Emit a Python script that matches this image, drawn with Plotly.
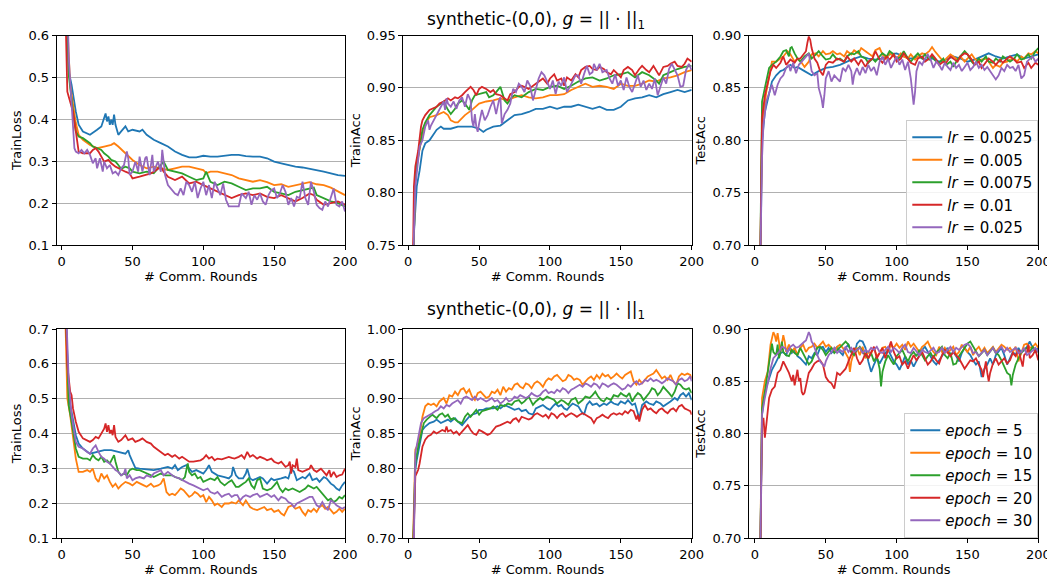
import plotly.graph_objects as go

colors = ["#1f77b4", "#ff7f0e", "#2ca02c", "#d62728", "#9467bd"]
lr_labels = ["0.0025", "0.005", "0.0075", "0.01", "0.025"]
epoch_labels = ["5", "10", "15", "20", "30"]
round_ticks = [0, 50, 100, 150, 200]
title_text = "synthetic-(0,0), <i>g</i> = || · ||<sub>1</sub>"

# ---------------- Top row: learning-rate sweep ----------------
# TrainLoss (round, value)
loss_lr_0025 = [(1,0.95),(3,0.70),(5,0.514),(7,0.482),(10,0.418),(12,0.387),(15,0.371),(20,0.363),(22,0.367),(25,0.375),(28,0.383),(30,0.403),(31,0.414),(32,0.395),(33,0.407),(34,0.387),(35,0.399),(36,0.387),(37,0.411),(38,0.387),(40,0.363),(42,0.371),(45,0.383),(47,0.371),(50,0.375),(55,0.371),(57,0.375),(60,0.363),(65,0.351),(70,0.343),(75,0.335),(80,0.323),(85,0.315),(90,0.309),(95,0.309),(100,0.313),(105,0.311),(110,0.311),(115,0.313),(120,0.315),(125,0.315),(130,0.312),(135,0.311),(140,0.311),(145,0.307),(150,0.299),(155,0.295),(160,0.291),(165,0.287),(170,0.285),(175,0.282),(180,0.279),(185,0.275),(190,0.271),(195,0.267),(200,0.265)]
loss_lr_005 = [(1,0.9),(3,0.7),(6,0.482),(8,0.434),(10,0.391),(12,0.363),(15,0.351),(20,0.339),(25,0.331),(30,0.335),(35,0.339),(37,0.343),(40,0.335),(45,0.319),(50,0.303),(55,0.291),(60,0.283),(65,0.287),(70,0.283),(75,0.279),(80,0.283),(85,0.287),(90,0.287),(95,0.283),(100,0.279),(102,0.271),(105,0.275),(110,0.275),(115,0.271),(120,0.267),(125,0.259),(130,0.255),(135,0.251),(140,0.255),(145,0.250),(150,0.243),(155,0.245),(160,0.239),(165,0.243),(170,0.247),(175,0.250),(180,0.245),(185,0.243),(190,0.237),(195,0.227),(200,0.219)]
loss_lr_0075 = [(1,0.9),(3,0.7),(5,0.506),(8,0.418),(10,0.371),(12,0.359),(15,0.355),(20,0.343),(22,0.335),(25,0.331),(28,0.327),(30,0.319),(33,0.311),(35,0.303),(38,0.299),(40,0.291),(42,0.282),(45,0.287),(48,0.283),(50,0.275),(55,0.271),(60,0.275),(65,0.271),(68,0.283),(70,0.291),(72,0.299),(75,0.279),(80,0.275),(85,0.271),(90,0.263),(95,0.255),(100,0.259),(102,0.275),(105,0.251),(110,0.243),(115,0.251),(120,0.247),(125,0.239),(130,0.231),(135,0.235),(140,0.235),(145,0.239),(150,0.227),(155,0.223),(160,0.219),(165,0.227),(170,0.231),(175,0.235),(178,0.237),(180,0.219),(185,0.212),(190,0.204),(195,0.200),(200,0.192)]
loss_lr_01 = [(1,0.9),(3,0.6),(4,0.466),(5,0.454),(8,0.418),(10,0.371),(12,0.323),(15,0.319),(20,0.319),(22,0.327),(24,0.331),(26,0.323),(28,0.311),(30,0.299),(33,0.303),(35,0.295),(38,0.287),(40,0.283),(45,0.275),(48,0.271),(50,0.259),(55,0.263),(60,0.267),(63,0.271),(65,0.275),(68,0.283),(70,0.287),(72,0.275),(75,0.263),(80,0.255),(85,0.263),(90,0.247),(95,0.251),(100,0.243),(105,0.235),(110,0.227),(115,0.219),(120,0.212),(125,0.219),(130,0.223),(135,0.219),(140,0.223),(145,0.215),(150,0.212),(155,0.219),(160,0.212),(165,0.204),(170,0.212),(175,0.223),(178,0.219),(180,0.208),(185,0.196),(190,0.200),(195,0.204),(200,0.196)]
loss_lr_025 = [(1,0.9),(4,0.7),(5,0.546),(7,0.426),(8,0.363),(9,0.331),(10,0.323),(12,0.319),(14,0.327),(16,0.319),(18,0.327),(20,0.315),(22,0.295),(24,0.307),(25,0.283),(27,0.307),(29,0.275),(30,0.299),(32,0.283),(34,0.291),(36,0.271),(38,0.275),(40,0.267),(42,0.283),(44,0.291),(46,0.323),(47,0.307),(48,0.267),(50,0.275),(52,0.299),(54,0.275),(55,0.311),(57,0.275),(59,0.307),(60,0.311),(62,0.267),(64,0.315),(65,0.275),(67,0.291),(68,0.299),(70,0.275),(71,0.327),(72,0.299),(73,0.267),(75,0.243),(77,0.235),(80,0.223),(82,0.219),(84,0.235),(86,0.219),(88,0.251),(90,0.243),(92,0.227),(94,0.251),(96,0.212),(98,0.235),(100,0.251),(102,0.219),(104,0.243),(106,0.212),(108,0.251),(110,0.235),(112,0.219),(114,0.247),(116,0.208),(118,0.192),(120,0.192),(125,0.192),(127,0.223),(130,0.212),(132,0.227),(134,0.196),(136,0.219),(138,0.208),(140,0.223),(142,0.204),(144,0.196),(146,0.219),(148,0.231),(150,0.235),(152,0.212),(154,0.223),(156,0.243),(158,0.227),(160,0.196),(162,0.212),(164,0.192),(166,0.215),(168,0.212),(170,0.251),(172,0.212),(174,0.196),(176,0.251),(178,0.227),(180,0.196),(182,0.188),(184,0.184),(186,0.204),(188,0.192),(190,0.212),(192,0.235),(194,0.196),(196,0.192),(198,0.204),(200,0.180)]

# TrainAcc
tracc_lr_0025 = [(1,0.5),(3,0.70),(4,0.761),(6,0.806),(8,0.821),(10,0.840),(12,0.847),(15,0.850),(20,0.860),(23,0.863),(25,0.861),(30,0.861),(35,0.863),(40,0.863),(45,0.863),(50,0.861),(53,0.858),(55,0.860),(60,0.863),(65,0.864),(70,0.869),(75,0.874),(80,0.875),(85,0.877),(90,0.880),(95,0.880),(100,0.882),(105,0.880),(110,0.882),(115,0.882),(120,0.884),(125,0.882),(130,0.880),(135,0.882),(140,0.879),(145,0.879),(150,0.882),(155,0.888),(160,0.890),(165,0.891),(170,0.893),(175,0.891),(180,0.894),(185,0.896),(190,0.898),(195,0.896),(200,0.898)]
tracc_lr_005 = [(1,0.5),(3,0.70),(5,0.815),(7,0.834),(10,0.856),(12,0.866),(15,0.872),(20,0.874),(25,0.877),(28,0.874),(30,0.869),(33,0.867),(35,0.867),(40,0.874),(45,0.879),(50,0.885),(55,0.887),(60,0.888),(65,0.890),(70,0.888),(75,0.891),(80,0.893),(85,0.891),(90,0.890),(95,0.891),(100,0.893),(105,0.893),(110,0.894),(115,0.898),(120,0.901),(125,0.904),(130,0.901),(135,0.902),(140,0.901),(145,0.899),(150,0.904),(155,0.902),(160,0.902),(165,0.904),(170,0.907),(175,0.906),(180,0.909),(185,0.910),(190,0.912),(195,0.915),(200,0.917)]
tracc_lr_0075 = [(1,0.5),(3,0.70),(5,0.818),(8,0.844),(10,0.860),(12,0.867),(15,0.874),(20,0.882),(25,0.887),(28,0.879),(30,0.875),(33,0.880),(35,0.885),(38,0.888),(40,0.885),(43,0.879),(45,0.888),(47,0.893),(50,0.894),(55,0.896),(57,0.891),(60,0.893),(62,0.896),(65,0.901),(68,0.888),(70,0.885),(73,0.891),(75,0.893),(80,0.891),(85,0.896),(90,0.899),(95,0.898),(100,0.901),(105,0.902),(110,0.899),(115,0.902),(120,0.906),(125,0.909),(130,0.910),(135,0.907),(140,0.909),(145,0.912),(150,0.913),(155,0.915),(160,0.910),(165,0.915),(170,0.912),(175,0.907),(177,0.904),(180,0.912),(185,0.915),(190,0.918),(195,0.920),(200,0.921)]
tracc_lr_01 = [(1,0.5),(3,0.72),(4,0.806),(5,0.825),(7,0.840),(9,0.863),(10,0.869),(12,0.874),(15,0.879),(20,0.882),(22,0.885),(25,0.887),(28,0.890),(30,0.888),(33,0.891),(35,0.890),(38,0.893),(40,0.896),(42,0.899),(44,0.901),(46,0.898),(48,0.893),(50,0.899),(52,0.901),(55,0.899),(58,0.896),(60,0.898),(62,0.894),(65,0.893),(68,0.890),(70,0.888),(72,0.894),(75,0.896),(78,0.901),(80,0.902),(85,0.899),(90,0.904),(93,0.907),(95,0.909),(98,0.904),(100,0.909),(103,0.913),(105,0.907),(108,0.909),(110,0.902),(112,0.910),(115,0.907),(118,0.913),(120,0.910),(122,0.917),(125,0.920),(128,0.921),(130,0.918),(133,0.917),(135,0.920),(138,0.918),(140,0.915),(143,0.913),(145,0.917),(148,0.913),(150,0.910),(152,0.917),(155,0.920),(158,0.917),(160,0.912),(163,0.918),(165,0.921),(168,0.917),(170,0.915),(173,0.921),(175,0.917),(177,0.912),(180,0.920),(183,0.921),(185,0.923),(188,0.925),(190,0.921),(193,0.920),(195,0.923),(197,0.928),(200,0.925)]
tracc_lr_025 = [(1,0.5),(3,0.70),(4,0.761),(5,0.806),(7,0.831),(8,0.844),(10,0.850),(12,0.863),(14,0.869),(15,0.860),(16,0.864),(18,0.869),(20,0.874),(22,0.879),(24,0.885),(25,0.887),(26,0.879),(27,0.890),(28,0.885),(30,0.882),(32,0.887),(34,0.880),(36,0.888),(38,0.891),(40,0.882),(42,0.894),(44,0.888),(45,0.869),(46,0.863),(47,0.875),(48,0.863),(49,0.858),(50,0.866),(52,0.879),(54,0.869),(56,0.874),(58,0.882),(60,0.888),(62,0.875),(64,0.888),(65,0.891),(66,0.866),(68,0.875),(70,0.879),(72,0.885),(74,0.899),(76,0.896),(78,0.904),(80,0.901),(82,0.896),(84,0.907),(86,0.902),(88,0.888),(90,0.898),(92,0.909),(94,0.915),(96,0.912),(98,0.906),(100,0.899),(102,0.907),(104,0.894),(106,0.906),(108,0.902),(110,0.910),(112,0.896),(114,0.901),(116,0.906),(118,0.912),(120,0.912),(122,0.904),(124,0.913),(126,0.921),(128,0.913),(130,0.915),(131,0.923),(133,0.917),(135,0.923),(137,0.915),(140,0.917),(142,0.909),(144,0.904),(146,0.913),(148,0.902),(150,0.907),(152,0.898),(154,0.910),(156,0.901),(158,0.896),(160,0.904),(162,0.912),(164,0.901),(166,0.907),(168,0.898),(170,0.904),(172,0.899),(174,0.909),(176,0.893),(178,0.902),(180,0.910),(182,0.904),(184,0.918),(186,0.923),(188,0.918),(190,0.912),(192,0.901),(194,0.902),(196,0.917),(198,0.923),(200,0.917)]

# TestAcc
teacc_lr_0025 = [(3,0.6),(5,0.799),(7,0.827),(10,0.846),(12,0.856),(15,0.862),(18,0.866),(20,0.867),(25,0.872),(28,0.869),(30,0.870),(35,0.866),(38,0.864),(40,0.862),(45,0.866),(50,0.869),(55,0.870),(60,0.872),(65,0.875),(70,0.878),(75,0.880),(80,0.878),(85,0.877),(90,0.878),(95,0.882),(100,0.883),(105,0.880),(110,0.878),(115,0.880),(120,0.877),(125,0.878),(130,0.875),(135,0.877),(140,0.880),(145,0.878),(150,0.875),(155,0.877),(160,0.880),(165,0.883),(170,0.880),(175,0.878),(180,0.880),(185,0.882),(190,0.878),(195,0.880),(200,0.882)]
teacc_lr_005 = [(3,0.6),(5,0.815),(8,0.846),(10,0.862),(12,0.875),(15,0.875),(18,0.878),(20,0.880),(23,0.885),(25,0.882),(28,0.875),(30,0.878),(33,0.874),(35,0.870),(38,0.875),(40,0.882),(43,0.883),(45,0.880),(48,0.885),(50,0.882),(53,0.883),(55,0.885),(58,0.882),(60,0.883),(63,0.880),(65,0.885),(68,0.882),(70,0.886),(73,0.883),(75,0.888),(78,0.885),(80,0.883),(83,0.880),(85,0.886),(88,0.888),(90,0.882),(93,0.878),(95,0.883),(98,0.880),(100,0.878),(103,0.883),(105,0.880),(108,0.878),(110,0.882),(113,0.877),(115,0.880),(118,0.883),(120,0.882),(123,0.885),(125,0.889),(127,0.885),(130,0.880),(133,0.875),(135,0.878),(138,0.882),(140,0.880),(143,0.877),(145,0.880),(148,0.875),(150,0.878),(153,0.882),(155,0.878),(158,0.875),(160,0.877),(163,0.878),(165,0.875),(168,0.869),(170,0.872),(173,0.870),(175,0.874),(178,0.875),(180,0.877),(183,0.878),(185,0.875),(188,0.880),(190,0.878),(193,0.883),(195,0.882),(198,0.885),(200,0.883)]
teacc_lr_0075 = [(3,0.6),(5,0.837),(7,0.850),(10,0.869),(12,0.872),(15,0.875),(18,0.880),(20,0.885),(22,0.886),(24,0.880),(25,0.888),(26,0.889),(28,0.883),(30,0.878),(32,0.875),(35,0.880),(38,0.883),(40,0.878),(43,0.882),(45,0.885),(48,0.880),(50,0.877),(53,0.878),(55,0.882),(58,0.877),(60,0.878),(63,0.875),(65,0.880),(68,0.883),(70,0.882),(73,0.885),(75,0.880),(78,0.878),(80,0.874),(83,0.878),(85,0.875),(88,0.880),(90,0.883),(93,0.880),(95,0.885),(98,0.882),(100,0.877),(103,0.880),(105,0.885),(108,0.878),(110,0.875),(113,0.880),(115,0.883),(118,0.878),(120,0.882),(123,0.877),(125,0.880),(128,0.875),(130,0.874),(133,0.878),(135,0.872),(138,0.875),(140,0.870),(143,0.877),(145,0.880),(148,0.885),(150,0.882),(153,0.875),(155,0.872),(158,0.878),(160,0.875),(163,0.880),(165,0.875),(168,0.874),(170,0.878),(173,0.875),(175,0.880),(178,0.877),(180,0.875),(183,0.878),(185,0.882),(188,0.877),(190,0.878),(193,0.882),(195,0.878),(198,0.885),(200,0.888)]
teacc_lr_01 = [(3,0.6),(5,0.821),(7,0.843),(9,0.856),(11,0.866),(13,0.872),(15,0.869),(18,0.874),(20,0.880),(22,0.872),(25,0.877),(28,0.874),(30,0.878),(32,0.878),(34,0.882),(36,0.885),(37,0.893),(38,0.899),(39,0.896),(40,0.888),(42,0.878),(44,0.874),(46,0.866),(48,0.862),(50,0.872),(52,0.875),(55,0.874),(58,0.878),(60,0.877),(63,0.875),(65,0.880),(68,0.875),(70,0.878),(73,0.872),(75,0.877),(78,0.870),(80,0.875),(83,0.878),(85,0.885),(88,0.877),(90,0.874),(93,0.880),(95,0.877),(98,0.882),(100,0.875),(103,0.878),(105,0.883),(108,0.877),(110,0.874),(113,0.872),(115,0.878),(118,0.880),(120,0.875),(123,0.878),(125,0.882),(128,0.877),(130,0.872),(133,0.875),(135,0.874),(138,0.880),(140,0.878),(143,0.875),(145,0.880),(148,0.883),(150,0.882),(153,0.877),(155,0.872),(158,0.875),(160,0.869),(163,0.874),(165,0.878),(168,0.875),(170,0.872),(173,0.877),(175,0.874),(178,0.878),(180,0.880),(183,0.877),(185,0.874),(188,0.875),(190,0.869),(193,0.874),(195,0.869),(198,0.874),(200,0.872)]
teacc_lr_025 = [(3,0.5),(4,0.70),(5,0.783),(6,0.815),(8,0.837),(10,0.846),(12,0.853),(14,0.843),(16,0.853),(18,0.859),(20,0.862),(22,0.869),(24,0.872),(25,0.866),(27,0.874),(29,0.864),(31,0.872),(33,0.875),(35,0.878),(37,0.882),(38,0.883),(40,0.866),(42,0.862),(44,0.864),(45,0.850),(47,0.840),(48,0.831),(49,0.843),(50,0.859),(52,0.866),(54,0.856),(56,0.862),(58,0.859),(60,0.856),(62,0.869),(64,0.866),(66,0.872),(68,0.866),(69,0.853),(70,0.862),(72,0.869),(74,0.862),(76,0.870),(78,0.864),(80,0.872),(82,0.866),(84,0.870),(86,0.862),(88,0.875),(90,0.880),(92,0.872),(94,0.878),(96,0.869),(98,0.875),(100,0.880),(102,0.872),(104,0.877),(106,0.867),(108,0.875),(110,0.859),(111,0.843),(112,0.834),(113,0.846),(114,0.866),(116,0.875),(118,0.872),(120,0.878),(122,0.882),(124,0.877),(126,0.869),(128,0.875),(130,0.872),(132,0.867),(134,0.874),(136,0.870),(138,0.867),(140,0.874),(142,0.869),(144,0.872),(146,0.866),(148,0.870),(150,0.874),(152,0.867),(154,0.870),(156,0.875),(158,0.869),(160,0.872),(162,0.867),(164,0.870),(166,0.866),(168,0.862),(170,0.858),(172,0.862),(174,0.869),(176,0.866),(178,0.872),(180,0.869),(182,0.870),(184,0.866),(186,0.872),(188,0.859),(190,0.862),(192,0.875),(194,0.878),(196,0.880),(198,0.875),(200,0.878)]

# ---------------- Bottom row: local-epoch sweep ----------------
loss_ep_5 = [(1,1.0),(3,0.75),(5,0.501),(7,0.462),(9,0.424),(10,0.395),(12,0.371),(15,0.357),(20,0.342),(25,0.347),(28,0.352),(30,0.352),(35,0.352),(40,0.347),(45,0.342),(47,0.352),(48,0.338),(50,0.319),(52,0.301),(55,0.299),(60,0.297),(65,0.295),(70,0.299),(75,0.304),(78,0.299),(80,0.309),(82,0.295),(85,0.304),(88,0.309),(90,0.299),(92,0.290),(95,0.295),(98,0.290),(100,0.285),(102,0.295),(104,0.309),(106,0.290),(110,0.280),(115,0.275),(118,0.271),(120,0.280),(121,0.304),(123,0.280),(125,0.271),(128,0.271),(130,0.285),(131,0.299),(133,0.271),(135,0.266),(140,0.275),(142,0.271),(145,0.256),(148,0.271),(150,0.266),(155,0.271),(158,0.275),(160,0.271),(162,0.299),(164,0.290),(166,0.266),(170,0.275),(172,0.271),(175,0.285),(177,0.266),(180,0.271),(182,0.261),(185,0.275),(187,0.271),(190,0.256),(192,0.251),(194,0.242),(196,0.237),(198,0.251),(200,0.261)]
loss_ep_10 = [(1,1.0),(3,0.7),(4,0.501),(6,0.453),(8,0.395),(10,0.328),(12,0.290),(15,0.290),(18,0.295),(20,0.290),(22,0.299),(24,0.271),(26,0.261),(28,0.285),(30,0.271),(32,0.280),(34,0.261),(36,0.247),(38,0.256),(40,0.242),(42,0.251),(45,0.261),(48,0.256),(50,0.251),(53,0.261),(55,0.256),(58,0.251),(60,0.247),(63,0.256),(65,0.247),(68,0.251),(70,0.256),(72,0.271),(74,0.232),(76,0.223),(78,0.227),(80,0.223),(82,0.232),(84,0.242),(86,0.237),(88,0.227),(90,0.218),(92,0.223),(94,0.232),(96,0.227),(98,0.218),(100,0.223),(102,0.203),(104,0.218),(106,0.208),(108,0.194),(110,0.199),(113,0.189),(115,0.199),(118,0.199),(120,0.203),(123,0.199),(125,0.208),(128,0.194),(130,0.208),(133,0.189),(135,0.184),(138,0.180),(140,0.184),(143,0.189),(145,0.180),(148,0.184),(150,0.175),(153,0.180),(155,0.170),(157,0.165),(160,0.189),(163,0.194),(165,0.184),(168,0.189),(170,0.175),(172,0.165),(174,0.180),(176,0.175),(178,0.184),(180,0.175),(182,0.189),(184,0.194),(186,0.184),(188,0.189),(190,0.180),(192,0.170),(194,0.175),(196,0.184),(198,0.175),(200,0.184)]
loss_ep_15 = [(1,1.0),(3,0.75),(5,0.481),(7,0.434),(9,0.386),(10,0.357),(12,0.333),(15,0.328),(18,0.328),(20,0.323),(22,0.338),(24,0.328),(26,0.323),(28,0.333),(30,0.319),(32,0.323),(34,0.314),(36,0.328),(37,0.338),(38,0.319),(40,0.290),(42,0.280),(44,0.285),(46,0.280),(48,0.295),(50,0.299),(53,0.295),(55,0.295),(58,0.290),(60,0.285),(63,0.280),(65,0.275),(68,0.280),(70,0.285),(73,0.280),(75,0.280),(78,0.280),(80,0.275),(83,0.271),(85,0.266),(87,0.275),(89,0.314),(90,0.290),(92,0.280),(94,0.285),(96,0.271),(98,0.275),(100,0.261),(103,0.266),(105,0.271),(108,0.266),(110,0.275),(112,0.261),(115,0.251),(118,0.261),(120,0.266),(123,0.247),(125,0.247),(128,0.256),(130,0.261),(132,0.271),(134,0.251),(136,0.242),(138,0.266),(140,0.271),(142,0.242),(145,0.237),(148,0.242),(150,0.251),(152,0.261),(154,0.242),(156,0.232),(158,0.242),(160,0.237),(163,0.242),(165,0.237),(168,0.232),(170,0.237),(172,0.242),(174,0.251),(176,0.247),(178,0.242),(180,0.247),(182,0.237),(184,0.227),(186,0.218),(188,0.208),(190,0.213),(192,0.203),(194,0.208),(196,0.218),(198,0.213),(200,0.223)]
loss_ep_20 = [(1,1.0),(3,0.75),(4,0.596),(5,0.558),(6,0.520),(7,0.510),(8,0.472),(10,0.434),(12,0.405),(15,0.386),(18,0.381),(20,0.376),(22,0.381),(24,0.390),(26,0.386),(28,0.400),(30,0.414),(31,0.429),(32,0.405),(33,0.424),(34,0.400),(35,0.410),(36,0.395),(37,0.424),(38,0.390),(40,0.376),(42,0.381),(45,0.395),(47,0.381),(50,0.386),(52,0.376),(55,0.381),(57,0.386),(60,0.376),(63,0.371),(65,0.362),(68,0.352),(70,0.347),(73,0.338),(75,0.342),(78,0.333),(80,0.338),(83,0.328),(85,0.333),(88,0.323),(90,0.319),(93,0.319),(95,0.320),(98,0.323),(100,0.328),(102,0.338),(104,0.328),(106,0.333),(108,0.323),(110,0.328),(113,0.326),(115,0.328),(118,0.333),(120,0.330),(122,0.328),(125,0.333),(127,0.338),(129,0.328),(131,0.347),(133,0.333),(135,0.338),(138,0.328),(140,0.333),(143,0.328),(145,0.323),(148,0.328),(150,0.319),(153,0.314),(155,0.319),(158,0.304),(160,0.309),(161,0.319),(162,0.285),(163,0.309),(165,0.304),(166,0.328),(167,0.295),(170,0.290),(173,0.295),(175,0.299),(176,0.309),(178,0.295),(180,0.290),(183,0.299),(185,0.290),(187,0.280),(189,0.295),(190,0.275),(192,0.290),(194,0.275),(196,0.280),(198,0.282),(200,0.299)]
loss_ep_30 = [(1,1.0),(3,0.8),(4,0.7),(5,0.549),(7,0.453),(9,0.395),(10,0.376),(12,0.362),(15,0.357),(18,0.347),(20,0.342),(22,0.357),(24,0.366),(26,0.347),(28,0.333),(30,0.328),(32,0.319),(34,0.314),(36,0.304),(38,0.295),(40,0.290),(42,0.280),(44,0.285),(45,0.299),(46,0.271),(48,0.280),(50,0.266),(52,0.271),(55,0.275),(58,0.271),(60,0.280),(63,0.275),(65,0.285),(68,0.290),(70,0.295),(72,0.280),(75,0.290),(78,0.280),(80,0.275),(83,0.271),(85,0.266),(88,0.261),(90,0.256),(93,0.251),(95,0.247),(98,0.242),(100,0.237),(103,0.242),(105,0.232),(108,0.227),(110,0.232),(113,0.218),(115,0.223),(118,0.227),(120,0.218),(122,0.223),(124,0.223),(126,0.208),(128,0.218),(130,0.223),(133,0.218),(135,0.223),(138,0.227),(140,0.218),(143,0.223),(145,0.227),(148,0.218),(150,0.223),(153,0.208),(155,0.218),(158,0.213),(160,0.203),(162,0.199),(164,0.189),(166,0.199),(168,0.203),(170,0.208),(173,0.213),(175,0.218),(177,0.218),(179,0.203),(180,0.194),(182,0.189),(184,0.203),(186,0.189),(188,0.180),(190,0.208),(192,0.203),(194,0.194),(196,0.189),(198,0.184),(200,0.189)]

tracc_ep_5 = [(1,0.5),(3,0.65),(4,0.70),(5,0.798),(6,0.812),(8,0.836),(10,0.855),(12,0.860),(15,0.865),(18,0.867),(20,0.870),(23,0.865),(25,0.867),(28,0.870),(30,0.867),(33,0.872),(35,0.867),(38,0.862),(40,0.867),(43,0.874),(45,0.877),(48,0.879),(50,0.884),(53,0.884),(55,0.886),(58,0.886),(60,0.886),(63,0.889),(65,0.886),(68,0.891),(70,0.889),(73,0.886),(75,0.884),(78,0.886),(80,0.882),(83,0.884),(85,0.879),(88,0.877),(90,0.886),(93,0.889),(95,0.891),(98,0.886),(100,0.884),(102,0.889),(104,0.893),(106,0.889),(108,0.891),(110,0.886),(112,0.884),(114,0.889),(116,0.893),(118,0.891),(120,0.889),(122,0.882),(124,0.877),(126,0.891),(128,0.896),(130,0.891),(133,0.893),(135,0.889),(138,0.893),(140,0.891),(143,0.896),(145,0.893),(148,0.891),(150,0.896),(153,0.893),(155,0.898),(158,0.891),(160,0.893),(162,0.879),(163,0.872),(165,0.891),(168,0.896),(170,0.893),(173,0.891),(175,0.896),(178,0.893),(180,0.889),(183,0.893),(185,0.896),(188,0.901),(190,0.898),(192,0.905),(194,0.908),(196,0.903),(198,0.908),(200,0.898)]
tracc_ep_10 = [(1,0.5),(3,0.65),(4,0.721),(5,0.827),(6,0.831),(8,0.846),(10,0.874),(12,0.889),(14,0.893),(16,0.891),(18,0.893),(20,0.889),(22,0.896),(25,0.901),(27,0.893),(29,0.905),(31,0.903),(33,0.910),(35,0.905),(37,0.913),(39,0.915),(41,0.908),(43,0.913),(45,0.903),(47,0.898),(49,0.908),(51,0.910),(53,0.905),(55,0.901),(57,0.903),(59,0.910),(61,0.908),(63,0.913),(65,0.905),(67,0.917),(69,0.910),(71,0.915),(73,0.913),(75,0.920),(77,0.922),(79,0.917),(81,0.915),(83,0.922),(85,0.920),(87,0.915),(89,0.922),(91,0.925),(93,0.922),(95,0.917),(97,0.925),(99,0.929),(101,0.927),(103,0.932),(105,0.934),(107,0.929),(109,0.925),(111,0.927),(113,0.934),(115,0.932),(117,0.927),(119,0.929),(121,0.927),(123,0.920),(125,0.925),(127,0.929),(129,0.932),(131,0.927),(133,0.934),(135,0.929),(137,0.936),(139,0.932),(141,0.934),(143,0.929),(145,0.932),(147,0.936),(149,0.932),(151,0.929),(153,0.934),(155,0.936),(157,0.939),(159,0.925),(161,0.920),(163,0.927),(165,0.922),(167,0.927),(169,0.932),(171,0.934),(173,0.936),(175,0.941),(177,0.934),(179,0.929),(181,0.932),(183,0.927),(185,0.934),(187,0.925),(189,0.920),(191,0.932),(193,0.936),(195,0.934),(197,0.936),(199,0.934),(200,0.929)]
tracc_ep_15 = [(1,0.5),(3,0.65),(4,0.70),(5,0.807),(7,0.831),(9,0.850),(11,0.865),(13,0.870),(15,0.874),(17,0.877),(20,0.872),(22,0.877),(24,0.879),(26,0.874),(28,0.877),(30,0.870),(32,0.872),(35,0.867),(38,0.865),(40,0.874),(42,0.879),(44,0.874),(46,0.879),(48,0.884),(50,0.877),(52,0.882),(55,0.884),(58,0.886),(60,0.889),(63,0.884),(65,0.891),(68,0.889),(70,0.893),(73,0.891),(75,0.896),(78,0.898),(80,0.893),(82,0.896),(85,0.903),(88,0.891),(90,0.896),(93,0.901),(95,0.898),(98,0.903),(100,0.901),(103,0.898),(105,0.893),(108,0.898),(110,0.896),(113,0.891),(115,0.898),(118,0.901),(120,0.893),(123,0.898),(125,0.903),(128,0.901),(130,0.905),(132,0.910),(134,0.903),(136,0.898),(138,0.896),(140,0.901),(143,0.898),(145,0.905),(148,0.903),(150,0.908),(152,0.905),(154,0.903),(156,0.908),(158,0.896),(160,0.903),(162,0.908),(164,0.905),(166,0.898),(168,0.903),(170,0.908),(172,0.915),(174,0.913),(176,0.905),(178,0.910),(180,0.917),(182,0.913),(184,0.908),(186,0.903),(188,0.910),(190,0.922),(192,0.920),(194,0.915),(196,0.913),(198,0.915),(200,0.908)]
tracc_ep_20 = [(1,0.5),(3,0.65),(4,0.70),(5,0.789),(6,0.793),(7,0.798),(8,0.807),(10,0.831),(12,0.841),(14,0.846),(16,0.848),(18,0.853),(20,0.850),(22,0.853),(24,0.855),(26,0.853),(27,0.860),(28,0.853),(30,0.855),(32,0.850),(34,0.853),(36,0.848),(38,0.853),(40,0.858),(42,0.862),(44,0.855),(46,0.850),(48,0.848),(50,0.855),(52,0.853),(54,0.850),(56,0.848),(58,0.850),(60,0.855),(62,0.860),(65,0.862),(68,0.865),(70,0.867),(72,0.865),(74,0.870),(76,0.872),(78,0.867),(80,0.874),(82,0.872),(85,0.870),(87,0.872),(89,0.877),(91,0.879),(93,0.877),(95,0.874),(97,0.877),(99,0.872),(101,0.879),(103,0.877),(105,0.872),(107,0.877),(109,0.879),(111,0.874),(113,0.877),(115,0.879),(117,0.877),(119,0.874),(121,0.877),(123,0.879),(125,0.877),(127,0.874),(129,0.872),(131,0.865),(133,0.872),(135,0.874),(137,0.877),(139,0.874),(141,0.872),(143,0.877),(145,0.879),(147,0.877),(149,0.879),(151,0.877),(153,0.882),(155,0.879),(157,0.884),(159,0.882),(161,0.870),(162,0.877),(163,0.867),(165,0.884),(167,0.891),(169,0.884),(171,0.886),(173,0.882),(175,0.879),(177,0.884),(179,0.886),(181,0.882),(183,0.879),(185,0.884),(187,0.886),(189,0.882),(191,0.889),(193,0.891),(195,0.886),(197,0.884),(199,0.882),(200,0.877)]
tracc_ep_30 = [(1,0.5),(3,0.65),(4,0.70),(5,0.822),(7,0.846),(9,0.865),(11,0.872),(13,0.874),(15,0.877),(17,0.879),(19,0.882),(21,0.884),(23,0.889),(25,0.886),(27,0.891),(29,0.889),(31,0.893),(33,0.896),(35,0.898),(37,0.893),(39,0.901),(41,0.903),(43,0.901),(45,0.898),(47,0.903),(49,0.898),(51,0.901),(53,0.898),(55,0.896),(57,0.898),(59,0.901),(61,0.896),(63,0.898),(65,0.893),(67,0.896),(69,0.901),(71,0.896),(73,0.898),(75,0.903),(77,0.901),(79,0.905),(81,0.903),(83,0.901),(85,0.903),(87,0.908),(89,0.905),(91,0.903),(93,0.905),(95,0.910),(97,0.913),(99,0.908),(101,0.910),(103,0.908),(105,0.913),(107,0.910),(109,0.915),(111,0.913),(113,0.908),(115,0.913),(117,0.915),(119,0.917),(121,0.920),(123,0.917),(125,0.922),(127,0.920),(129,0.917),(131,0.922),(133,0.920),(135,0.915),(137,0.922),(139,0.920),(141,0.917),(143,0.920),(145,0.922),(147,0.920),(149,0.917),(151,0.913),(153,0.915),(155,0.920),(157,0.917),(159,0.922),(161,0.925),(163,0.920),(165,0.922),(167,0.927),(169,0.925),(171,0.929),(173,0.925),(175,0.927),(177,0.925),(179,0.922),(181,0.925),(183,0.929),(185,0.927),(187,0.925),(189,0.920),(191,0.927),(193,0.929),(195,0.925),(197,0.927),(199,0.932),(200,0.925)]

teacc_ep_5 = [(3,0.6),(4,0.70),(5,0.818),(7,0.840),(10,0.853),(12,0.861),(14,0.866),(16,0.872),(18,0.877),(20,0.878),(22,0.875),(24,0.882),(26,0.877),(28,0.880),(30,0.874),(32,0.872),(34,0.869),(36,0.866),(38,0.874),(40,0.872),(42,0.877),(44,0.875),(46,0.882),(48,0.883),(50,0.878),(52,0.882),(54,0.877),(56,0.880),(58,0.883),(60,0.878),(62,0.875),(64,0.882),(66,0.885),(68,0.878),(70,0.875),(72,0.886),(74,0.889),(76,0.888),(78,0.882),(80,0.869),(82,0.859),(84,0.866),(86,0.872),(88,0.867),(90,0.872),(92,0.877),(94,0.880),(96,0.875),(98,0.869),(100,0.866),(102,0.861),(104,0.867),(106,0.874),(108,0.866),(110,0.870),(112,0.864),(114,0.869),(116,0.874),(118,0.880),(120,0.883),(122,0.878),(124,0.874),(126,0.869),(128,0.866),(130,0.870),(132,0.875),(134,0.878),(136,0.882),(138,0.875),(140,0.878),(142,0.874),(144,0.869),(146,0.877),(148,0.882),(150,0.878),(152,0.875),(154,0.870),(156,0.866),(158,0.869),(160,0.854),(162,0.862),(164,0.866),(166,0.872),(168,0.866),(170,0.875),(172,0.878),(174,0.882),(176,0.875),(178,0.866),(180,0.872),(182,0.878),(184,0.875),(186,0.882),(188,0.877),(190,0.880),(192,0.883),(194,0.888),(196,0.882),(198,0.878),(200,0.882)]
teacc_ep_10 = [(3,0.6),(4,0.70),(5,0.834),(7,0.850),(9,0.859),(10,0.872),(11,0.885),(12,0.891),(13,0.897),(14,0.894),(15,0.888),(16,0.896),(17,0.885),(18,0.878),(19,0.886),(20,0.894),(21,0.888),(22,0.878),(24,0.885),(26,0.878),(28,0.882),(30,0.875),(32,0.882),(34,0.885),(36,0.878),(38,0.882),(40,0.883),(42,0.886),(44,0.882),(46,0.885),(48,0.888),(50,0.883),(52,0.885),(54,0.882),(56,0.878),(58,0.883),(60,0.885),(62,0.882),(64,0.877),(66,0.872),(67,0.859),(68,0.869),(70,0.878),(72,0.882),(74,0.875),(76,0.883),(78,0.872),(80,0.878),(82,0.877),(84,0.882),(86,0.874),(88,0.877),(90,0.882),(92,0.883),(94,0.878),(96,0.885),(98,0.882),(100,0.886),(102,0.882),(104,0.885),(106,0.880),(108,0.888),(110,0.883),(112,0.886),(114,0.882),(116,0.878),(118,0.883),(120,0.885),(122,0.888),(124,0.882),(126,0.878),(128,0.875),(130,0.883),(132,0.878),(134,0.882),(136,0.877),(138,0.880),(140,0.883),(142,0.875),(144,0.878),(146,0.885),(148,0.882),(150,0.878),(152,0.883),(154,0.875),(156,0.880),(158,0.883),(160,0.878),(162,0.882),(164,0.877),(166,0.880),(168,0.883),(170,0.878),(172,0.882),(174,0.885),(176,0.883),(178,0.880),(180,0.882),(182,0.878),(184,0.883),(186,0.869),(188,0.877),(190,0.885),(192,0.886),(194,0.882),(196,0.883),(198,0.886),(200,0.882)]
teacc_ep_15 = [(3,0.6),(4,0.70),(5,0.824),(7,0.840),(9,0.859),(11,0.878),(12,0.886),(13,0.878),(15,0.875),(16,0.885),(17,0.872),(18,0.878),(19,0.888),(20,0.878),(22,0.875),(24,0.874),(26,0.880),(28,0.877),(30,0.875),(32,0.882),(34,0.877),(36,0.872),(38,0.866),(40,0.869),(42,0.875),(44,0.882),(46,0.883),(48,0.880),(50,0.875),(52,0.878),(54,0.882),(56,0.877),(58,0.880),(60,0.883),(62,0.886),(64,0.888),(66,0.885),(68,0.878),(70,0.875),(72,0.880),(74,0.883),(76,0.878),(78,0.875),(80,0.872),(82,0.877),(84,0.869),(86,0.874),(88,0.862),(89,0.845),(90,0.859),(92,0.869),(94,0.875),(96,0.870),(98,0.866),(100,0.874),(102,0.877),(104,0.880),(106,0.874),(108,0.869),(110,0.875),(112,0.878),(114,0.874),(116,0.880),(118,0.875),(120,0.870),(122,0.874),(124,0.877),(126,0.872),(128,0.878),(130,0.880),(132,0.883),(134,0.875),(136,0.872),(138,0.877),(140,0.866),(142,0.867),(144,0.874),(146,0.878),(148,0.882),(150,0.886),(152,0.888),(154,0.883),(156,0.878),(158,0.874),(160,0.877),(162,0.880),(164,0.875),(166,0.878),(168,0.882),(170,0.877),(172,0.875),(174,0.870),(176,0.864),(178,0.858),(180,0.856),(181,0.846),(182,0.856),(184,0.866),(186,0.872),(188,0.878),(190,0.880),(192,0.882),(194,0.878),(196,0.883),(198,0.880),(200,0.878)]
teacc_ep_20 = [(3,0.6),(4,0.70),(5,0.808),(6,0.815),(7,0.796),(8,0.808),(9,0.824),(10,0.834),(12,0.842),(14,0.845),(16,0.858),(18,0.861),(20,0.869),(22,0.864),(24,0.858),(26,0.850),(27,0.856),(28,0.846),(29,0.853),(30,0.861),(31,0.850),(32,0.853),(33,0.840),(34,0.837),(35,0.839),(36,0.846),(37,0.850),(38,0.858),(40,0.862),(42,0.867),(44,0.869),(46,0.870),(48,0.866),(50,0.854),(52,0.850),(54,0.848),(56,0.843),(57,0.851),(58,0.858),(60,0.856),(62,0.859),(64,0.862),(66,0.869),(68,0.875),(70,0.882),(72,0.872),(74,0.866),(76,0.870),(78,0.877),(80,0.872),(82,0.878),(84,0.883),(86,0.872),(88,0.877),(90,0.882),(92,0.872),(94,0.880),(96,0.888),(98,0.878),(100,0.872),(102,0.874),(104,0.866),(106,0.869),(108,0.862),(110,0.869),(112,0.875),(114,0.870),(116,0.874),(118,0.878),(120,0.872),(122,0.866),(124,0.869),(126,0.874),(128,0.870),(130,0.867),(132,0.875),(134,0.880),(136,0.878),(138,0.874),(140,0.878),(142,0.875),(144,0.872),(146,0.867),(148,0.862),(150,0.866),(152,0.870),(154,0.869),(156,0.872),(158,0.866),(160,0.861),(161,0.854),(162,0.862),(163,0.869),(164,0.858),(165,0.850),(166,0.858),(168,0.867),(170,0.872),(172,0.866),(174,0.869),(176,0.872),(178,0.867),(180,0.870),(182,0.877),(184,0.874),(186,0.880),(188,0.869),(189,0.864),(190,0.875),(192,0.878),(193,0.885),(194,0.872),(196,0.875),(198,0.880),(200,0.870)]
teacc_ep_30 = [(3,0.6),(4,0.70),(5,0.818),(7,0.834),(9,0.850),(11,0.862),(13,0.872),(15,0.875),(17,0.878),(19,0.883),(21,0.882),(23,0.878),(25,0.883),(27,0.885),(29,0.882),(31,0.883),(33,0.886),(35,0.888),(36,0.889),(37,0.894),(38,0.897),(39,0.894),(40,0.888),(41,0.886),(42,0.882),(44,0.875),(46,0.869),(48,0.866),(49,0.864),(50,0.869),(52,0.875),(54,0.878),(56,0.882),(58,0.877),(60,0.880),(62,0.878),(64,0.883),(66,0.878),(68,0.882),(70,0.878),(72,0.880),(74,0.882),(76,0.877),(78,0.880),(80,0.878),(82,0.882),(84,0.880),(86,0.883),(88,0.878),(90,0.877),(92,0.880),(94,0.883),(96,0.878),(98,0.882),(100,0.880),(102,0.877),(104,0.882),(106,0.885),(108,0.878),(110,0.877),(112,0.882),(114,0.878),(116,0.875),(118,0.880),(120,0.878),(122,0.877),(124,0.880),(126,0.882),(128,0.877),(130,0.878),(132,0.882),(134,0.877),(136,0.880),(138,0.883),(140,0.878),(142,0.882),(144,0.880),(146,0.883),(148,0.885),(150,0.886),(152,0.883),(154,0.877),(156,0.878),(158,0.874),(160,0.877),(162,0.880),(164,0.875),(166,0.878),(168,0.882),(170,0.877),(172,0.880),(174,0.883),(176,0.878),(178,0.882),(180,0.878),(182,0.880),(184,0.882),(186,0.877),(188,0.878),(190,0.882),(192,0.875),(194,0.877),(196,0.880),(198,0.882),(200,0.878)]

# ---------------- Figure ----------------
FONT = "DejaVu Sans"
PAGE_OFFSET = 8            # default body margin of the page
W, H = 1055 - PAGE_OFFSET, 579 - PAGE_OFFSET

def px_x(p):
    return (p - PAGE_OFFSET) / W

def px_y(p):
    return 1 - (p - PAGE_OFFSET) / H

panels = [
    ([loss_lr_0025, loss_lr_005, loss_lr_0075, loss_lr_01, loss_lr_025], None, "TrainLoss", [0.1, 0.6], 0.1, ".1f", (56.7, 345), (35.5, 245), -3.5),
    ([tracc_lr_0025, tracc_lr_005, tracc_lr_0075, tracc_lr_01, tracc_lr_025], None, "TrainAcc", [0.75, 0.95], 0.05, ".2f", (403.3, 691.7), (35.5, 245), -3.5),
    ([teacc_lr_0025, teacc_lr_005, teacc_lr_0075, teacc_lr_01, teacc_lr_025], "legend", "TestAcc", [0.70, 0.90], 0.05, ".2f", (749, 1038.3), (35.5, 245), -4.2),
    ([loss_ep_5, loss_ep_10, loss_ep_15, loss_ep_20, loss_ep_30], None, "TrainLoss", [0.1, 0.7], 0.1, ".1f", (56.7, 345), (329, 538), -3.5),
    ([tracc_ep_5, tracc_ep_10, tracc_ep_15, tracc_ep_20, tracc_ep_30], None, "TrainAcc", [0.70, 1.00], 0.05, ".2f", (403.3, 691.7), (329, 538), -3.5),
    ([teacc_ep_5, teacc_ep_10, teacc_ep_15, teacc_ep_20, teacc_ep_30], "legend2", "TestAcc", [0.70, 0.90], 0.05, ".2f", (749, 1038.3), (329, 538), -4.2),
]

fig = go.Figure()
layout = dict(
    width=W, height=H,
    margin=dict(l=0, r=0, t=0, b=0, autoexpand=False),
    paper_bgcolor="white", plot_bgcolor="white",
    font=dict(family=FONT, size=13, color="black"),
)

for i, (series, leg, ytitle, yr, dt, fmt, xd, yd, xmin) in enumerate(panels):
    n = i + 1
    xa = "x" if n == 1 else f"x{n}"
    ya = "y" if n == 1 else f"y{n}"
    labels = lr_labels if i < 3 else epoch_labels
    prefix = "<i>lr</i> = " if i < 3 else "<i>epoch</i> = "
    for k, s in enumerate(series):
        fig.add_trace(go.Scatter(
            x=[p[0] for p in s], y=[p[1] for p in s],
            mode="lines", line=dict(color=colors[k], width=1.8),
            name=prefix + labels[k],
            xaxis=xa, yaxis=ya,
            showlegend=leg is not None,
            legend=leg if leg is not None else "legend",
            hoverinfo="skip",
        ))
    axis_common = dict(
        showline=True, linecolor="black", linewidth=1, mirror=True,
        ticks="outside", ticklen=4, tickwidth=1, tickcolor="black",
        tickfont=dict(family=FONT, size=13, color="black"), zeroline=False,
        automargin=False,
    )
    layout["xaxis" if n == 1 else f"xaxis{n}"] = dict(
        axis_common, domain=[px_x(xd[0]), px_x(xd[1])], range=[xmin, 200],
        tickvals=round_ticks, showgrid=False,
        anchor=ya,
        title=dict(text="# Comm. Rounds", font=dict(family=FONT, size=13), standoff=2),
    )
    layout["yaxis" if n == 1 else f"yaxis{n}"] = dict(
        axis_common, domain=[px_y(yd[1]), px_y(yd[0])], range=yr,
        dtick=dt, tick0=0, tickformat=fmt, showgrid=True,
        gridcolor="#b0b0b0", gridwidth=1,
        anchor=xa,
        title=dict(text=ytitle, font=dict(family=FONT, size=13), standoff=3),
    )

legend_common = dict(
    xanchor="right", yanchor="bottom",
    bgcolor="rgba(255,255,255,0.85)", bordercolor="#cccccc", borderwidth=1,
    font=dict(family=FONT, size=15, color="black"),
    itemwidth=30, tracegroupgap=0,
)
layout["legend"] = dict(legend_common, x=px_x(1038.3), y=px_y(245))
layout["legend2"] = dict(legend_common, x=px_x(1038.3), y=px_y(538))

layout["annotations"] = [
    dict(text=title_text, x=px_x(536), y=1.0, xref="paper", yref="paper",
         showarrow=False, font=dict(family=FONT, size=17, color="black"),
         xanchor="center", yanchor="top", borderpad=0),
    dict(text=title_text, x=px_x(536), y=px_y(310), xref="paper", yref="paper",
         showarrow=False, font=dict(family=FONT, size=17, color="black"),
         xanchor="center", yanchor="middle"),
]

fig.update_layout(**layout)
fig.write_html("out.html")
